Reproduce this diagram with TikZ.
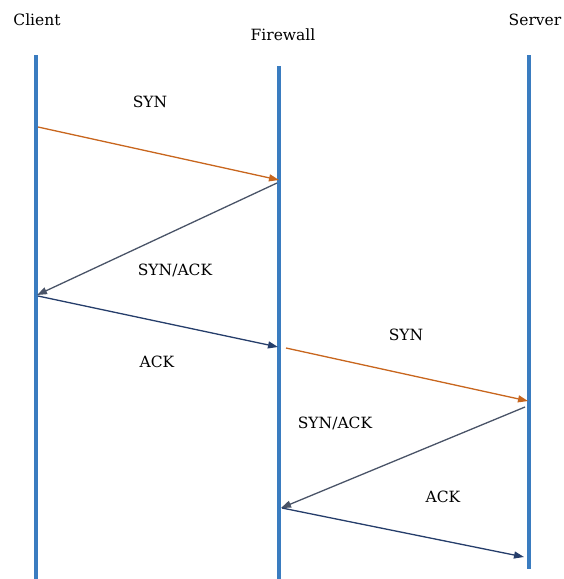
\documentclass[tikz,border=0pt]{standalone}
\usepackage{fontspec}
\setmainfont{DejaVu Serif}
\usetikzlibrary{arrows.meta}
\definecolor{lifeblue}{HTML}{3A7CC0}
\definecolor{synorange}{HTML}{C8661E}
\definecolor{ackgray}{HTML}{4A5468}
\definecolor{acknavy}{HTML}{263E6B}
\tikzset{
  lifeline/.style={draw=lifeblue, line width=3.6pt},
  msg/.style={line width=1.3pt, -{Triangle[length=10pt,width=7pt]}},
  synmsg/.style={msg, draw=synorange, fill=synorange},
  synackmsg/.style={msg, draw=ackgray, fill=ackgray},
  ackmsg/.style={msg, draw=acknavy, fill=acknavy},
  title/.style={font=\fontsize{15.5}{18}\selectfont, inner sep=1pt},
  lbl/.style={font=\fontsize{15.5}{18}\selectfont, inner sep=1pt}
}
\begin{document}
\begin{tikzpicture}[x=1pt, y=-1pt]
\useasboundingbox (0,0) rectangle (563,579);

% participants
\node[title] (client) at (37,20) {Client};
\node[title] (firewall) at (283,35) {Firewall};
\node[title] (server) at (535,20) {Server};

% lifelines
\coordinate (c0) at (36,55);   \coordinate (c1) at (36,579);
\coordinate (f0) at (279,66);  \coordinate (f1) at (279,579);
\coordinate (s0) at (529,55);  \coordinate (s1) at (529,569);
\draw[lifeline] (c0) -- (c1);
\draw[lifeline] (f0) -- (f1);
\draw[lifeline] (s0) -- (s1);

% message end points
\coordinate (m1a) at (38,127);  \coordinate (m1b) at (279,180);
\coordinate (m2a) at (277,183); \coordinate (m2b) at (37,295);
\coordinate (m3a) at (38,296);  \coordinate (m3b) at (278,347);
\coordinate (m4a) at (286,348); \coordinate (m4b) at (528,401);
\coordinate (m5a) at (525,407); \coordinate (m5b) at (281,508);
\coordinate (m6a) at (282,508); \coordinate (m6b) at (524,557);

% client <-> firewall handshake
\draw[synmsg] (m1a) -- (m1b);
\draw[synackmsg] (m2a) -- (m2b);
\draw[ackmsg] (m3a) -- (m3b);

% firewall <-> server handshake
\draw[synmsg] (m4a) -- (m4b);
\draw[synackmsg] (m5a) -- (m5b);
\draw[ackmsg] (m6a) -- (m6b);

% labels
\node[lbl] (l1) at (150,102) {SYN};
\node[lbl] (l2) at (175,270) {SYN/ACK};
\node[lbl] (l3) at (157,362) {ACK};
\node[lbl] (l4) at (406,335) {SYN};
\node[lbl] (l5) at (335,423) {SYN/ACK};
\node[lbl] (l6) at (443,497) {ACK};
\end{tikzpicture}
\end{document}
